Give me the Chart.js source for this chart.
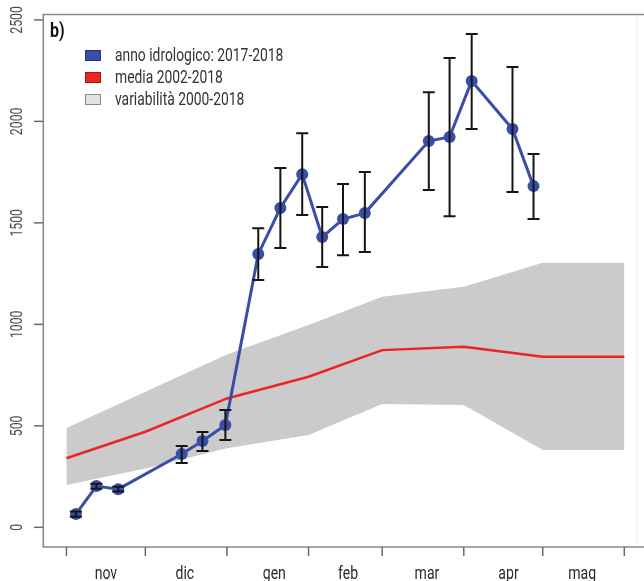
<!DOCTYPE html>
<html><head><meta charset="utf-8">
<script src="https://cdn.jsdelivr.net/npm/chart.js@4/dist/chart.umd.min.js"></script>
<style>html,body{margin:0;padding:0;background:#fff}#wrap{width:644px;height:581px;position:relative}</style>
</head><body><div id="wrap"><canvas id="c" width="644" height="581"></canvas></div>
<script>
// ---- data (days counted from 1 November) ----
const obsDays   = [3.6, 11.4, 19.7, 43.8, 51.7, 60.4, 72.9, 81.3, 89.6, 97.2, 105.1, 113.4, 137.7, 145.6, 154.0, 169.5, 177.5];
const obsValues = [65, 203, 188, 361, 425, 504, 1346, 1573, 1740, 1430, 1519, 1548, 1903, 1923, 2199, 1962, 1681];
const obsLow    = [52, 190, 176, 317, 376, 430, 1218, 1376, 1539, 1282, 1341, 1356, 1662, 1533, 1962, 1652, 1519];
const obsHigh   = [78, 215, 200, 400, 469, 578, 1474, 1770, 1942, 1578, 1691, 1750, 2144, 2312, 2430, 2268, 1839];
const climDays   = [0, 30, 61, 92, 120, 151, 181, 212];
const meanValues = [340, 471, 635, 742, 873, 890, 840, 840];
const bandUpper  = [489, 668, 851, 997, 1136, 1185, 1303, 1303];
const bandLower  = [208, 290, 390, 455, 607, 602, 381, 381];
const monthTickDays  = [0, 30, 61, 92, 120, 151, 181, 212];
const monthLabels    = ['nov', 'dic', 'gen', 'feb', 'mar', 'apr', 'mag'];
const monthLabelDays = [15, 45, 79, 107, 137, 168, 196];
const yTicks = [0, 500, 1000, 1500, 2000, 2500];
const legendLabels = ['anno idrologico: 2017-2018', 'media 2002-2018', 'variabilità 2000-2018'];
const panelLabel = 'b)';

const BLUE = '#3a4ea8', RED = '#ee2424', GREY = '#cbcbcb';
const FONT = 'Roboto, "Open Sans", sans-serif';

function pts(xs, ys) { return xs.map((x, i) => ({x: x, y: ys[i]})); }

function sText(ctx, txt, x, y, sx, align, base) {
  ctx.save(); ctx.translate(x, y); ctx.scale(sx, 1);
  ctx.textAlign = align; ctx.textBaseline = base; ctx.fillText(txt, 0, 0); ctx.restore();
}

const decor = {
  id: 'decor',
  afterDatasetsDraw(chart) {
    const ctx = chart.ctx, xs = chart.scales.x, ys = chart.scales.y;
    ctx.save();
    ctx.strokeStyle = '#151515'; ctx.lineWidth = 2;
    for (let i = 0; i < obsDays.length; i++) {
      const px = xs.getPixelForValue(obsDays[i]);
      const p1 = ys.getPixelForValue(obsLow[i]), p2 = ys.getPixelForValue(obsHigh[i]);
      ctx.beginPath();
      ctx.moveTo(px, p1); ctx.lineTo(px, p2);
      ctx.moveTo(px - 6, p1); ctx.lineTo(px + 6, p1);
      ctx.moveTo(px - 6, p2); ctx.lineTo(px + 6, p2);
      ctx.stroke();
    }
    ctx.restore();
  },
  afterDraw(chart) {
    const ctx = chart.ctx, xs = chart.scales.x, ys = chart.scales.y, a = chart.chartArea;
    ctx.save();
    ctx.strokeStyle = '#8a8a8a'; ctx.lineWidth = 1.6;
    ctx.beginPath();
    ctx.moveTo(a.right + 10, a.top + 0.5); ctx.lineTo(a.left + 0.3, a.top + 0.5);
    ctx.lineTo(a.left + 0.3, a.bottom); ctx.lineTo(a.right + 10, a.bottom);
    ctx.stroke();
    ctx.strokeStyle = '#f2f2f2'; ctx.lineWidth = 1;
    ctx.beginPath(); ctx.moveTo(a.right - 1, a.top + 2); ctx.lineTo(a.right - 1, a.bottom - 2); ctx.stroke();
    ctx.strokeStyle = '#6a6a6a'; ctx.lineWidth = 1.5;
    ctx.fillStyle = '#4a4a4a'; ctx.font = '17px ' + FONT;
    yTicks.forEach(v => {
      const py = ys.getPixelForValue(v);
      ctx.beginPath(); ctx.moveTo(a.left - 9, py); ctx.lineTo(a.left, py); ctx.stroke();
      ctx.save(); ctx.translate(18, py); ctx.rotate(-Math.PI / 2); ctx.scale(0.72, 1);
      ctx.textAlign = 'center'; ctx.textBaseline = 'middle'; ctx.fillText(String(v), 0, 0);
      ctx.restore();
    });
    monthTickDays.forEach(d => {
      const px = xs.getPixelForValue(d);
      ctx.beginPath(); ctx.moveTo(px, a.bottom); ctx.lineTo(px, a.bottom + 9); ctx.stroke();
    });
    ctx.fillStyle = '#2a2a2a'; ctx.font = '19px ' + FONT;
    monthLabels.forEach((m, i) => {
      sText(ctx, m, xs.getPixelForValue(monthLabelDays[i]), 579, 0.74, 'center', 'alphabetic');
    });
    ctx.fillStyle = '#111'; ctx.font = 'bold 20px ' + FONT;
    sText(ctx, panelLabel, 50, 37, 0.8, 'left', 'alphabetic');
    const rows = [55.5, 77.5, 99.5];
    const fills = [BLUE, RED, '#e2e2e2'];
    const strokes = ['#27357a', '#a01515', '#8a8a8a'];
    ctx.font = '18px ' + FONT;
    legendLabels.forEach((t, i) => {
      ctx.fillStyle = fills[i]; ctx.fillRect(85, rows[i] - 5.5, 16, 11);
      ctx.strokeStyle = strokes[i]; ctx.lineWidth = 1; ctx.strokeRect(85.5, rows[i] - 5, 15, 10);
      ctx.fillStyle = '#333';
      sText(ctx, t, 115, rows[i] + 1, 0.77, 'left', 'middle');
    });
    ctx.restore();
  }
};

new Chart(document.getElementById('c'), {
  type: 'line',
  data: {
    datasets: [
      { order: 4, data: pts(climDays, bandUpper), borderWidth: 0, pointRadius: 0, fill: '+1', backgroundColor: GREY, borderColor: 'rgba(0,0,0,0)', tension: 0 },
      { order: 3, data: pts(climDays, bandLower), borderWidth: 0, pointRadius: 0, fill: false, borderColor: 'rgba(0,0,0,0)', tension: 0 },
      { order: 2, data: pts(climDays, meanValues), borderWidth: 2.5, pointRadius: 0, fill: false, borderColor: RED, tension: 0 },
      { order: 1, data: pts(obsDays, obsValues), borderWidth: 3, pointRadius: 6, pointBorderWidth: 0, pointBackgroundColor: BLUE, fill: false, borderColor: BLUE, tension: 0 }
    ]
  },
  options: {
    responsive: false, animation: false, devicePixelRatio: 1,
    layout: { padding: { left: 43, top: 14, right: 4, bottom: 34 } },
    scales: {
      x: { type: 'linear', min: -8.9, max: 217.2, display: false },
      y: { type: 'linear', min: -97, max: 2529, display: false }
    },
    plugins: { legend: { display: false }, tooltip: { enabled: false } }
  },
  plugins: [decor]
});
</script></body></html>
